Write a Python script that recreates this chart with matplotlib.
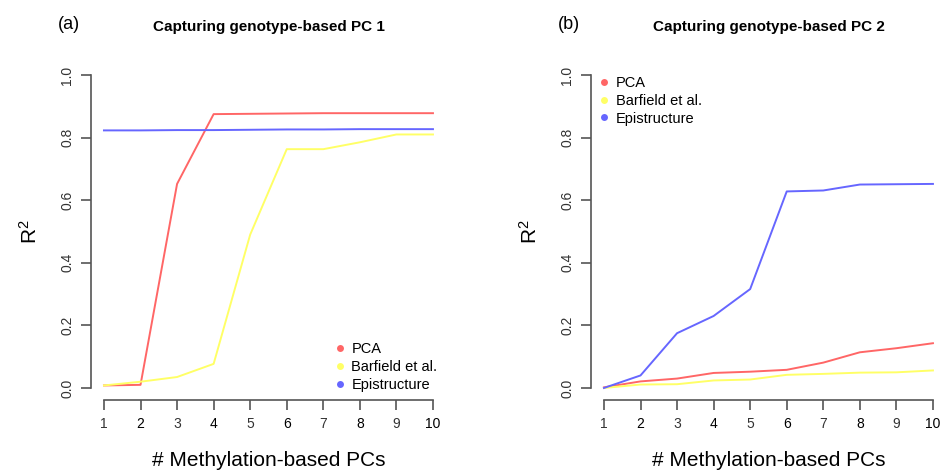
import matplotlib.pyplot as plt
from matplotlib.lines import Line2D

plt.rcParams['font.family'] = ['Liberation Sans', 'DejaVu Sans']
plt.rcParams['mathtext.fontset'] = 'custom'
plt.rcParams['mathtext.rm'] = 'Liberation Sans'
plt.rcParams['mathtext.it'] = 'Liberation Sans:italic'

n_pcs = [1, 2, 3, 4, 5, 6, 7, 8, 9, 10]
methods = ['PCA', 'Barfield et al.', 'Epistructure']
colors = ['#ff6666', '#ffff66', '#6666ff']

# panel (a): genotype-based PC 1
pc1_pca = [0.008, 0.010, 0.652, 0.875, 0.876, 0.877, 0.878, 0.878, 0.878, 0.878]
pc1_barfield = [0.008, 0.020, 0.035, 0.077, 0.490, 0.763, 0.763, 0.785, 0.810, 0.810]
pc1_epi = [0.823, 0.823, 0.824, 0.824, 0.825, 0.826, 0.826, 0.827, 0.827, 0.827]

# panel (b): genotype-based PC 2
pc2_pca = [0.002, 0.021, 0.030, 0.048, 0.052, 0.058, 0.081, 0.114, 0.127, 0.143]
pc2_barfield = [0.000, 0.011, 0.012, 0.024, 0.027, 0.042, 0.045, 0.049, 0.050, 0.056]
pc2_epi = [0.000, 0.040, 0.175, 0.230, 0.316, 0.628, 0.631, 0.650, 0.651, 0.652]

panels = [
    ('(a)', 'Capturing genotype-based PC 1', [pc1_pca, pc1_barfield, pc1_epi], 0.0966),
    ('(b)', 'Capturing genotype-based PC 2', [pc2_pca, pc2_barfield, pc2_epi], 0.6285),
]

fig = plt.figure(figsize=(9.4, 4.73), dpi=100)
axis_col = '#555555'

for i, (tag, title, series, left) in enumerate(panels):
    ax = fig.add_axes([left, 0.1533, 0.378, 0.7146])
    for vals, col, name in zip(series, colors, methods):
        ax.plot(n_pcs, vals, color=col, lw=1.4, label=name)
    ax.set_xlim(0.64, 10.36)
    ax.set_ylim(-0.04, 1.04)
    for s in ['top', 'right']:
        ax.spines[s].set_visible(False)
    ax.spines['left'].set_bounds(0, 1)
    ax.spines['bottom'].set_bounds(1, 10)
    ax.spines['bottom'].set_position(('data', -0.04))
    for s in ['left', 'bottom']:
        ax.spines[s].set_color(axis_col)
        ax.spines[s].set_linewidth(1.2)
    ax.set_xticks(n_pcs)
    ax.set_yticks([0, 0.2, 0.4, 0.6, 0.8, 1.0])
    ax.set_yticklabels(['0.0', '0.2', '0.4', '0.6', '0.8', '1.0'], rotation=90, va='center')
    ax.tick_params(length=7, width=1.2, color=axis_col, labelsize=10, labelcolor='#333333', pad=5)
    for j, lab in enumerate(ax.get_xticklabels()):
        if j % 2 == 1:
            lab.set_color('#000000')
    ax.set_xlabel('# Methylation-based PCs', fontsize=15, labelpad=14)
    ax.set_ylabel('R$^2$', fontsize=15, labelpad=14)
    ax.text(0.5, 1.105, title, transform=ax.transAxes, fontsize=11, fontweight='bold',
            ha='center', va='center')
    ax.text(-0.092, 1.111, tag, transform=ax.transAxes, fontsize=13,
            ha='left', va='center')

    handles = [Line2D([], [], ls='none', marker='o', ms=5, color=c, mec='none') for c in colors]
    if i == 0:
        ax.legend(handles, methods, loc='lower right', bbox_to_anchor=(1.0, 0.0),
                  frameon=False, fontsize=10.5, handlelength=0.6, handletextpad=0.5,
                  labelspacing=0.25, borderaxespad=0.2)
    else:
        ax.legend(handles, methods, loc='upper left', bbox_to_anchor=(0.0, 0.985),
                  frameon=False, fontsize=10.5, handlelength=0.6, handletextpad=0.5,
                  labelspacing=0.25, borderaxespad=0.2)

fig.savefig('out.png', dpi=100)
